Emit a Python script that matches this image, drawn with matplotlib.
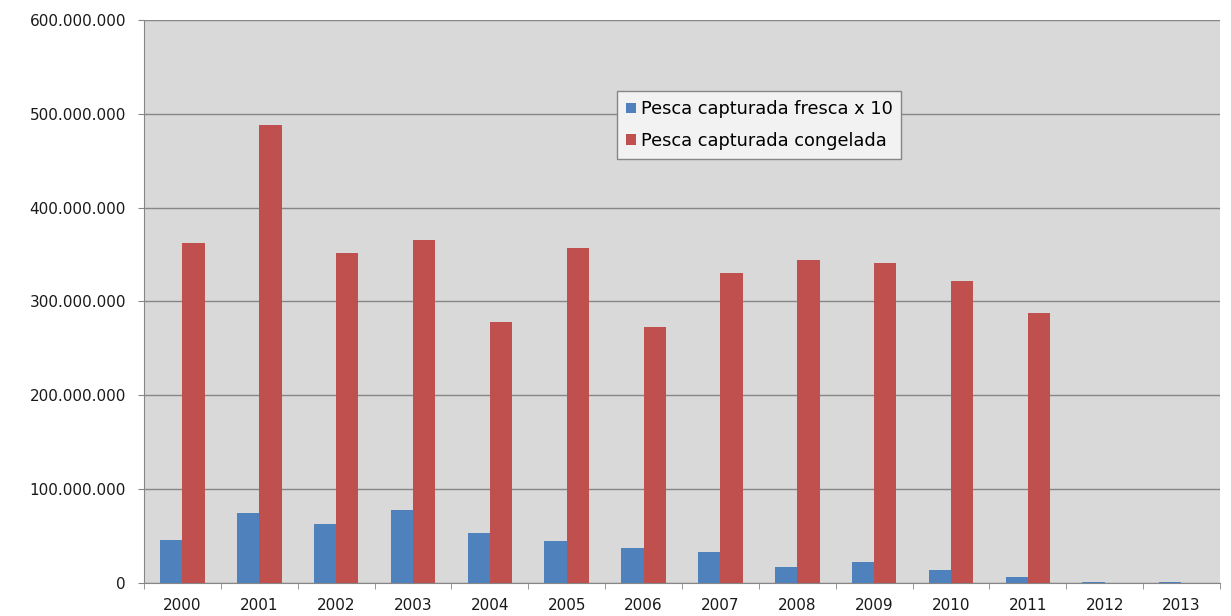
import numpy as np
import matplotlib.pyplot as plt
from matplotlib.ticker import FuncFormatter, FixedLocator

years = ['2000', '2001', '2002', '2003', '2004', '2005', '2006',
         '2007', '2008', '2009', '2010', '2011', '2012', '2013']
# fresh catch (x10) and frozen catch, in units
fresca_x10 = [46e6, 75e6, 63e6, 77.5e6, 53e6, 45e6, 37e6,
              33e6, 17e6, 22e6, 14e6, 6.5e6, 1e6, 1e6]
congelada = [362e6, 488e6, 352e6, 365e6, 278e6, 357e6, 273e6,
             330e6, 344e6, 341e6, 322e6, 288e6, 0, 0]

plt.rcParams['font.family'] = ['DejaVu Sans']

fig = plt.figure(figsize=(12.31, 6.16), dpi=100)
ax = fig.add_axes([0.117, 0.0536, 0.874, 0.914])
ax.set_facecolor('#d9d9d9')

x = np.arange(len(years))
w = 0.29
ax.bar(x - w / 2, fresca_x10, w, color='#4f81bd', label='Pesca capturada fresca x 10', zorder=3)
ax.bar(x + w / 2, congelada, w, color='#c0504d', label='Pesca capturada congelada', zorder=3)

ax.set_xlim(-0.5, len(years) - 0.5)
ax.set_ylim(0, 600e6)
ax.set_yticks(np.arange(0, 600e6 + 1, 100e6))
ax.yaxis.set_major_formatter(FuncFormatter(lambda v, p: f'{int(v):,}'.replace(',', '.')))
ax.yaxis.grid(True, color='#868686', linewidth=1, zorder=0)

ax.set_xticks(x)
ax.set_xticklabels(years)
ax.xaxis.set_minor_locator(FixedLocator(np.arange(-0.5, len(years), 1)))
ax.tick_params(axis='x', which='major', length=0, pad=11, labelsize=11, labelcolor='#1a1a1a')
ax.tick_params(axis='x', which='minor', length=4.5, color='#868686', direction='out')
ax.tick_params(axis='y', length=4.5, color='#868686', labelsize=11, labelcolor='#1a1a1a', pad=8.5)

for s in ['top', 'right']:
    ax.spines[s].set_visible(False)
for s in ['left', 'bottom']:
    ax.spines[s].set_color('#868686')

leg = ax.legend(loc='upper left', bbox_to_anchor=(0.440, 0.873), fontsize=12.8,
                frameon=True, fancybox=False, handlelength=0.55, handleheight=0.55,
                handletextpad=0.25, borderpad=0.5, labelspacing=0.75,
                borderaxespad=0)
leg.get_frame().set_facecolor('#f2f2f2')
leg.get_frame().set_edgecolor('#868686')
leg.get_frame().set_alpha(1)

fig.savefig('out.png', dpi=100)
